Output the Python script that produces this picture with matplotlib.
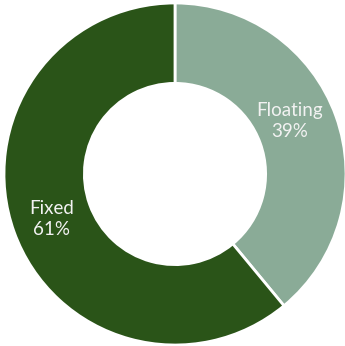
import matplotlib.pyplot as plt

# donut of fixed vs floating share
labels = ['Floating', 'Fixed']
shares = [39, 61]
colors = ['#8aab97', '#2a5418']
# label anchor points (pie units), as Excel placed them
label_pos = [(0.670, 0.310), (-0.722, -0.263)]

fig = plt.figure(figsize=(3.45, 3.46), dpi=100)
ax = fig.add_axes([0, 0, 1, 1])

texts = [f'{l}\n{s}%' for l, s in zip(labels, shares)]
wedges, txt = ax.pie(shares, labels=texts, colors=colors, startangle=90, counterclock=False,
                     radius=1, labeldistance=0.77,
                     wedgeprops=dict(width=0.47, edgecolor='white', linewidth=2),
                     textprops=dict(color='#f2f2f2', fontsize=13.5, family='Lato',
                                    ha='center', va='center', linespacing=1.25))
for t, p in zip(txt, label_pos):
    t.set_position(p)

ax.set_xlim(-175 / 171, 170 / 171)
ax.set_ylim(-172 / 171, 174 / 171)
ax.set_aspect('equal')
ax.axis('off')
fig.savefig('out.png', dpi=100, facecolor='white')
